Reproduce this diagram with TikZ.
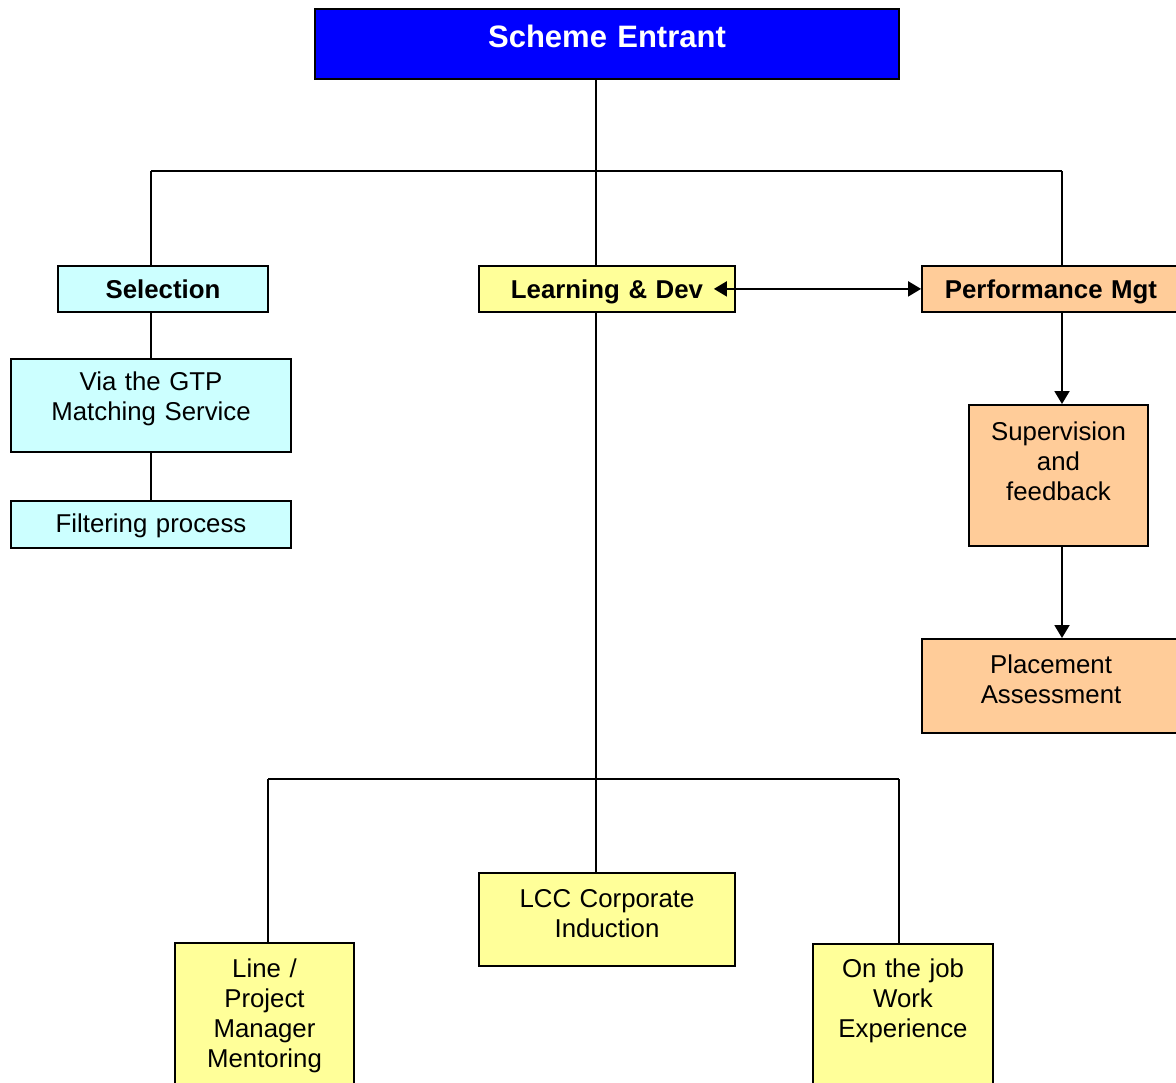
\documentclass[tikz,border=0pt]{standalone}
\usepackage{fontspec}
\setmainfont{Liberation Sans}
\usetikzlibrary{arrows.meta,positioning}
\definecolor{HeadBlue}{HTML}{0000FF}
\definecolor{SelCyan}{HTML}{CCFFFF}
\definecolor{DevYellow}{HTML}{FFFF99}
\definecolor{PerfPeach}{HTML}{FFCC99}
\newcommand{\bodyfont}{\fontsize{12.9pt}{15pt}\selectfont}

\begin{document}
\begin{tikzpicture}[x=0.5pt,y=-0.5pt,
  box/.style={rectangle,draw=black,line width=0.9pt,inner sep=0pt,
              anchor=north,align=center,font=\bodyfont},
  head/.style={box,fill=HeadBlue,text=white,
               font=\fontsize{15.5pt}{18pt}\selectfont\bfseries},
  selbox/.style={box,fill=SelCyan},
  devbox/.style={box,fill=DevYellow},
  perfbox/.style={box,fill=PerfPeach},
  sz/.style n args={3}{text width=#1,text height=#2,text depth=#3},
  link/.style={line width=1pt},
  arr/.style={link,->},
  >={Triangle[length=6.5pt,width=7.5pt]}]
\useasboundingbox (0,0) rectangle (1176,1082);
\clip (0,0) rectangle (1176,1082);
\fill[white] (0,0) rectangle (1176,1082);

% top of the tree
\node[head,sz={292pt}{19.5pt}{15.5pt}] (se) at (607,8) {Scheme Entrant};

% selection branch
\node[selbox,sz={105pt}{16.5pt}{6.5pt},font=\bodyfont\bfseries] (sel) at (163,265) {Selection};
\node[selbox,sz={140pt}{16pt}{30.5pt}] (gtp) at (151,358) {Via the GTP\\Matching Service};
\node[selbox,sz={140pt}{16pt}{7.5pt},below=23.5pt of gtp] (filt) {Filtering process};

% learning branch
\node[devbox,sz={128pt}{16.5pt}{6.5pt},font=\bodyfont\bfseries] (ld) at (607,265) {Learning \& Dev};
\node[devbox,sz={128pt}{17.5pt}{29pt}] (lcc) at (607,872) {LCC Corporate\\Induction};
\node[devbox,sz={89.5pt}{17.5pt}{57.5pt}] (lpm) at (264.5,942) {Line /\\Project\\Manager\\Mentoring};
\node[devbox,sz={90pt}{17pt}{58pt}] (otj) at (903,943) {On the job\\Work\\Experience};

% performance branch
\node[perfbox,sz={129pt}{16.5pt}{6.5pt},font=\bodyfont\bfseries] (pm) at (1051,265) {Performance Mgt};
\node[perfbox,sz={89.5pt}{18pt}{52.5pt}] (sup) at (1058.5,404) {Supervision\\and\\feedback};
\node[perfbox,sz={129pt}{17.5pt}{29.5pt}] (plac) at (1051,638) {Placement\\Assessment};

\coordinate (tl) at (151,171);
\coordinate (tm) at (596,171);
\coordinate (tr) at (1062,171);
\coordinate (bl) at (268,779);
\coordinate (bm) at (596,779);
\coordinate (br) at (899,779);

\draw[link] (se.south -| tm) -- (tm);
\draw[link] (tl) -- (tr);
\draw[link] (tl) -- (tl |- sel.north);
\draw[link] (tl |- sel.south) -- (gtp.north);
\draw[link] (gtp.south) -- (filt.north);
\draw[link] (tm) -- (tm |- ld.north);
\draw[link] (tm |- ld.south) -- (bm);
\draw[link] (bl) -- (br);
\draw[link] (bl) -- (bl |- lpm.north);
\draw[link] (bm) -- (bm |- lcc.north);
\draw[link] (br) -- (br |- otj.north);
\draw[link] (tr) -- (tr |- pm.north);
\draw[arr] (tr |- pm.south) -- (tr |- sup.north);
\draw[arr] (tr |- sup.south) -- (tr |- plac.north);
\draw[link,<->] ([xshift=-11pt]ld.east) -- (pm.west);
\end{tikzpicture}
\end{document}
